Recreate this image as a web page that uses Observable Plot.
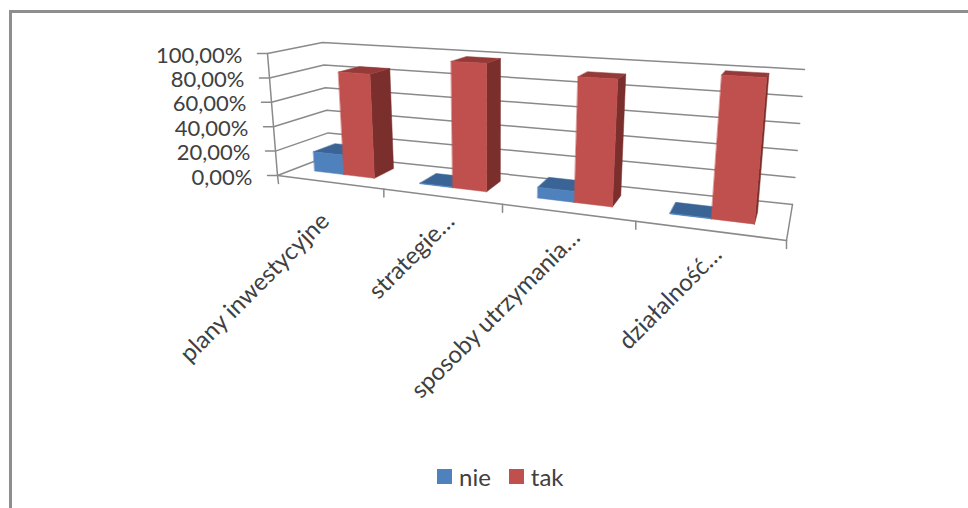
<!DOCTYPE html>
<html lang="pl">
<head>
<meta charset="utf-8">
<script src="https://cdn.jsdelivr.net/npm/d3@7"></script>
<script src="https://cdn.jsdelivr.net/npm/@observablehq/plot@0.6"></script>
<style>
  html, body { margin: 0; background: #fff; }
  #page { position: relative; width: 968px; height: 508px; overflow: hidden; background: #fff; }
  #page::before { content: ""; position: absolute; left: 9px; top: 10px; right: -5px; bottom: -5px;
    border-left: 3px solid #8e8e8e; border-top: 3px solid #8e8e8e; }
  #chart { position: absolute; left: 0; top: 0; }
  #chart svg { background: transparent; display: block; }
  #key { position: absolute; left: 437px; top: 460px; }
  .key-swatches { display: flex !important; margin: 0 !important; min-height: 33px !important;
    align-items: center; font: 24px Lato, sans-serif !important; color: #404040 !important; }
  .key-swatch { display: inline-flex !important; align-items: center; margin-right: 18px !important; }
  .key-swatch > svg { margin-right: 7px !important; }
</style>
</head>
<body>
<div id="page"><div id="chart"></div><div id="key"></div></div>
<script>
// Survey shares per topic
const categories = ["plany inwestycyjne", "strategie…", "sposoby utrzymania…", "działalność…"];
const series = ["nie", "tak"];
const nie = [16, 0.5, 8, 0.5];
const tak = [84, 98, 92, 99];
const valueTicks = [0, 20, 40, 60, 80, 100];

const seriesFaces = {
  nie: {front: "#4f81bd", top: "#3a6495", side: "#2f5078"},
  tak: {front: "#c0504d", top: "#953a38", side: "#7a2f2d"}
};
const gridColor = "#8a8a8a";
const inkColor = "#404040";
const font = "Lato, sans-serif";
const W = 968, H = 460;

// Corners of the 3D chart box, as [x, y] on the page: front/back, left/right, floor/ceiling
const box = {
  fl0: [277, 175], fl1: [267, 53],
  bl0: [329, 155], bl1: [322, 42],
  fr0: [786, 240], fr1: [801, 82],
  br0: [792, 204], br1: [804, 69]
};
const foreshorten = 1.262; // perspective stretch along the category axis
const clusterHalf = 0.0725;  // half of a category's bar cluster, in category-axis units
const clusterShift = -0.003;
const depthFront = 0.34, depthBackLeft = 0.78, depthBackRight = 0.66;

const lerp = (a, b, t) => a + (b - a) * t;
const warp = (u) => u / (u + foreshorten * (1 - u));

// Trilinear map from (category position, value, depth) to page position
function project(u, value, w) {
  const s = warp(u), v = value / 100;
  return [0, 1].map((i) => {
    const front = lerp(lerp(box.fl0[i], box.fl1[i], v), lerp(box.fr0[i], box.fr1[i], v), s);
    const back = lerp(lerp(box.bl0[i], box.bl1[i], v), lerp(box.br0[i], box.br1[i], v), s);
    return lerp(front, back, w);
  });
}

// Frame lines: walls, floor and tick marks
const frame = [];
const addLine = (id, ...pts) => pts.forEach(([x, y]) => frame.push({id, x, y}));
const tickLength = 10;
for (const t of valueTicks) {
  const a = project(0, t, 0), b = project(0, t, 1), c = project(1, t, 1);
  addLine(`grid${t}`, [a[0] - tickLength, a[1]], a, b, c);
}
addLine("axisY", project(0, 100, 0), project(0, 0, 0), [project(0, 0, 0)[0] + 1, project(0, 0, 0)[1] + 8]);
addLine("floorFront", project(0, 0, 0), project(1, 0, 0));
addLine("floorRight", project(1, 0, 1), project(1, 0, 0));
for (let i = 1; i <= categories.length; i++) {
  const p = project(i / categories.length, 0, 0);
  addLine(`tick${i}`, p, [p[0], p[1] + 8]);
}

// Bar faces, painted back to front within each category
const faces = [];
const addFace = (id, fill, corners) => corners.forEach(([x, y]) => faces.push({id, fill, x, y}));
categories.forEach((c, i) => {
  const center = (i + 0.5) / categories.length + clusterShift;
  const wBack = lerp(depthBackLeft, depthBackRight, warp(center));
  [nie[i], tak[i]].forEach((value, j) => {
    const col = seriesFaces[series[j]];
    const u0 = center + (j - 1) * clusterHalf, u1 = u0 + clusterHalf;
    const id = `${i}-${j}`;
    addFace(`${id}-side`, col.side, [project(u1, 0, depthFront), project(u1, 0, wBack), project(u1, value, wBack), project(u1, value, depthFront)]);
    addFace(`${id}-top`, col.top, [project(u0, value, depthFront), project(u1, value, depthFront), project(u1, value, wBack), project(u0, value, wBack)]);
    addFace(`${id}-front`, col.front, [project(u0, 0, depthFront), project(u1, 0, depthFront), project(u1, value, depthFront), project(u0, value, depthFront)]);
  });
});

const yLabels = valueTicks.map((t) => {
  const [x, y] = project(0, t, 0);
  return {x: x - tickLength - 15, y, label: `${t},00%`};
});
// The untruncated first label sits further out along its slant than the shortened ones
const labelShift = [[-4, 35], [9, 21], [9, 21], [9, 20]];
const xLabels = categories.map((label, i) => {
  const [x, y] = project((i + 0.5) / categories.length, 0, 0);
  return {x: x + labelShift[i][0], y: y + labelShift[i][1], label};
});

const chart = Plot.plot({
  width: W, height: H,
  margin: 0,
  x: {domain: [0, W], range: [0, W], axis: null},
  y: {domain: [0, H], range: [0, H], axis: null},
  style: {background: "transparent"},
  marks: [
    Plot.line(frame, {x: "x", y: "y", z: "id", stroke: gridColor, strokeWidth: 1.5}),
    Plot.line(faces, {x: "x", y: "y", z: "id", fill: "fill", stroke: "fill", strokeWidth: 0.5, curve: "linear-closed"}),
    Plot.text(yLabels, {x: "x", y: "y", text: "label", textAnchor: "end", dy: 2, fontSize: 22, fontFamily: font, fill: inkColor, ariaLabel: "value labels"}),
    Plot.text(xLabels, {x: "x", y: "y", text: "label", textAnchor: "end", rotate: -45, fontSize: 24, fontFamily: font, fill: inkColor})
  ]
});
d3.select(chart).selectAll('g[aria-label="value labels"] text').style("letter-spacing", "1.6px");
document.getElementById("chart").append(chart);

document.getElementById("key").append(Plot.legend({
  color: {type: "ordinal", domain: series, range: series.map((s) => seriesFaces[s].front)},
  swatchSize: 15,
  className: "key"
}));
</script>
</body>
</html>
